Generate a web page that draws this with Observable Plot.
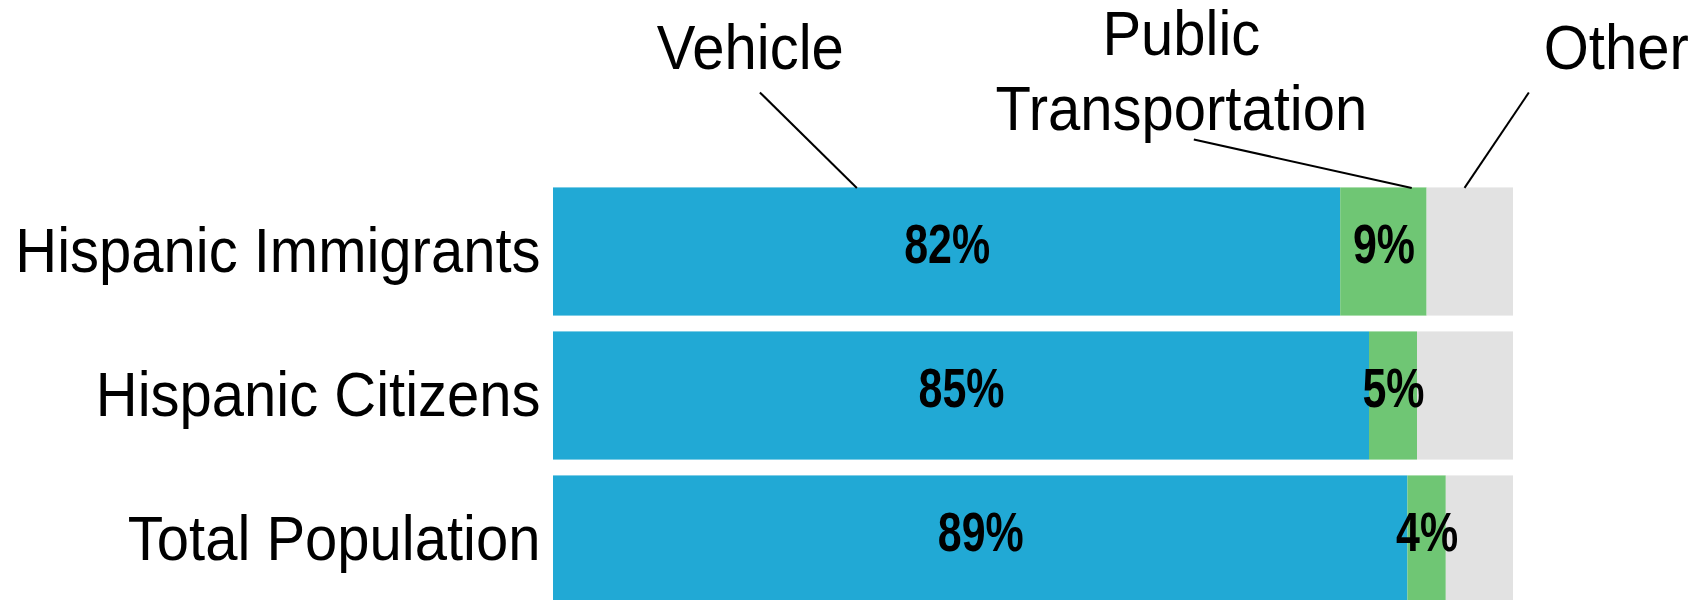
<!DOCTYPE html>
<html>
<head>
<meta charset="utf-8">
<script src="https://cdn.jsdelivr.net/npm/d3@7"></script>
<script src="https://cdn.jsdelivr.net/npm/@observablehq/plot@0.6"></script>
<style>
  html, body { margin: 0; padding: 0; background: #fff; }
  svg { display: block; }
</style>
</head>
<body>
<div id="chart"></div>
<script>
// ---- data ----
const groups = ["Hispanic Immigrants", "Hispanic Citizens", "Total Population"];
const modes = ["Vehicle", "Public Transportation", "Other"];
const vehicle = [82, 85, 89];
const publicTransport = [9, 5, 4];
const other = [9, 10, 7];
const modeLabels = ["Vehicle", "Public\nTransportation", "Other"];

// annotation placement (in data units of the x/y scales)
const modeLabelX = [20.5, 65.4, 110.7];
const modeLabelY = [-1.44, -1.275, -1.44];
const leaderX1 = [21.5, 66.7, 101.6];
const leaderY1 = [-1.108, -0.781, -1.108];
const leaderX2 = [31.6, 89.4, 94.9];
const barHalf = 0.445;

const colors = ["#21a9d5", "#6fc674", "#e2e2e2"];
const series = [vehicle, publicTransport, other];

// build stacked table
const rows = [];
groups.forEach((g, i) => {
  let acc = 0;
  series.forEach((s, k) => {
    rows.push({group: g, row: i, mode: modes[k], value: s[i], x1: acc, x2: acc + s[i]});
    acc += s[i];
  });
});
const pctRows = rows.filter(d => d.mode !== "Other");
const groupRows = groups.map((g, i) => ({group: g, row: i}));
const ann = modes.map((m, k) => ({
  label: modeLabels[k], lx: modeLabelX[k], ly: modeLabelY[k],
  x1: leaderX1[k], y1: leaderY1[k], x2: leaderX2[k], y2: -barHalf
}));

const font = "'Liberation Sans', Arial, sans-serif";

const chart = Plot.plot({
  width: 1705,
  height: 600,
  margin: 0,
  style: {background: "#fff", overflow: "visible"},
  x: {domain: [0, 100], range: [553, 1513], axis: null},
  y: {domain: [-1.7465, 2.4201], range: [0, 600], axis: null},
  color: {domain: modes, range: colors},
  marks: [
    Plot.rect(rows, {
      x1: "x1", x2: "x2",
      y1: d => d.row - barHalf, y2: d => d.row + barHalf,
      fill: "mode"
    }),
    Plot.text(pctRows, {
      x: d => (d.x1 + d.x2) / 2, y: "row",
      text: d => d.value + "%",
      dy: -7,
      fontSize: 55, fontWeight: "bold",
      fontFamily: font,
      fill: "#000"
    }),
    Plot.text(groupRows, {
      x: 0, y: "row", text: "group",
      dx: -13, textAnchor: "end",
      fontSize: 58, fontFamily: font, fill: "#000"
    }),
    Plot.link(ann, {
      x1: "x1", y1: "y1", x2: "x2", y2: "y2",
      stroke: "#000", strokeWidth: 2
    }),
    Plot.text(ann, {
      x: "lx", y: "ly", text: "label",
      lineHeight: 1.17,
      fontSize: 58, fontFamily: font, fill: "#000"
    })
  ]
});

// glyph proportions as in the original: labels slightly tall, percentages condensed
const textGroups = chart.querySelectorAll('g[aria-label="text"]');
function stretch(group, sx, sy) {
  if (!group) return;
  group.querySelectorAll("text").forEach(el => {
    let t = el.getAttribute("transform");
    if (!t) {
      const x = el.getAttribute("x") || 0, y = el.getAttribute("y") || 0;
      el.removeAttribute("x"); el.removeAttribute("y");
      t = `translate(${x},${y})`;
    }
    el.setAttribute("transform", t + ` scale(${sx},${sy})`);
  });
}
stretch(textGroups[0], 0.78, 1);
stretch(textGroups[1], 1, 1.1);
stretch(textGroups[2], 1, 1.1);

document.getElementById("chart").appendChild(chart);
</script>
</body>
</html>
